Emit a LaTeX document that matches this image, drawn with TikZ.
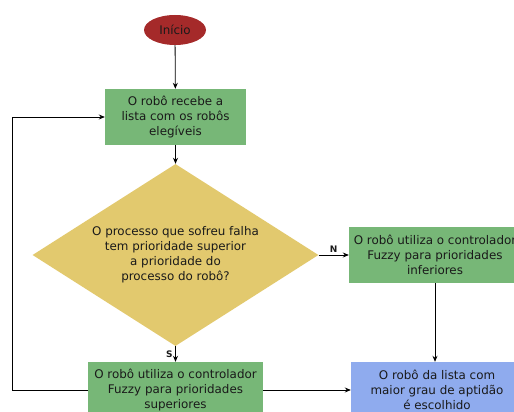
\documentclass[tikz,border=0pt]{standalone}
\usepackage{fontspec}
\setmainfont{DejaVu Sans}
\usetikzlibrary{shapes.geometric,arrows.meta}
\definecolor{startred}{HTML}{A52A2A}
\definecolor{boxgreen}{HTML}{77B777}
\definecolor{decyellow}{HTML}{E2C96E}
\definecolor{endblue}{HTML}{8FABEE}
\definecolor{txt}{HTML}{1A1A1A}
\begin{document}
\begin{tikzpicture}[x=1pt,y=-1pt,
  every node/.style={text=txt},
  box/.style={rectangle, inner sep=0pt, align=center, minimum height=56pt,
    font=\fontsize{11.9}{15}\selectfont},
  lbl/.style={font=\fontsize{9}{10}\selectfont\bfseries, inner sep=2.5pt},
  arr/.style={-{Stealth[length=6pt,width=5pt]}, line width=0.8pt, black}]
\useasboundingbox (0,0) rectangle (514,412);
\clip (0,0) rectangle (514,412);
\node[ellipse, fill=startred, minimum width=62pt, minimum height=30pt, inner sep=0pt,
  font=\fontsize{11.9}{15}\selectfont] (start) at (175,30) {Início};
\node[box, fill=boxgreen, minimum width=141pt] (b1) at (175.5,117)
  {O robô recebe a\\lista com os robôs\\elegíveis};
\node[diamond, fill=decyellow, shape aspect=1.57, minimum width=286pt, minimum height=182pt,
  inner sep=0pt, align=center, font=\fontsize{11.9}{15}\selectfont] (dec) at (175.5,255)
  {O processo que sofreu falha\\tem prioridade superior\\a prioridade do\\processo do robô?};
\node[box, fill=boxgreen, minimum width=172pt] (rn) at (435,255)
  {O robô utiliza o controlador\\Fuzzy para prioridades\\inferiores};
\node[box, fill=boxgreen, minimum width=175pt] (ls) at (175.5,390)
  {O robô utiliza o controlador\\Fuzzy para prioridades\\superiores};
\node[box, fill=endblue, minimum width=172pt] (fin) at (437,390)
  {O robô da lista com\\maior grau de aptidão\\é escolhido};
\coordinate (loop) at (12,390);
\draw[arr] (start) -- (b1);
\draw[arr] (b1) -- (dec);
\draw[arr] (dec.east) -- node[lbl, above] {N} (rn.west);
\draw[arr] (dec.south) -- node[lbl, left] {S} (ls.north);
\draw[arr] (rn.south) -- (rn.south |- fin.north);
\draw[arr] (ls.east) -- (ls.east -| fin.west);
\draw[arr] (ls.west) -- (loop) |- (b1.west);
\end{tikzpicture}
\end{document}
